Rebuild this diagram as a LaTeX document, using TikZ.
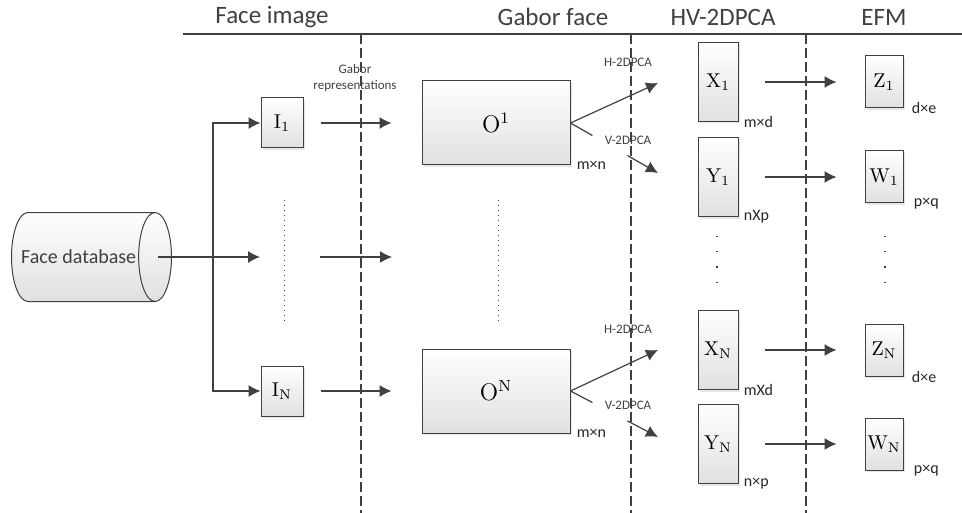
\documentclass[tikz,border=0pt]{standalone}
\usepackage{fontspec}
\newfontfamily\lblfont{Carlito}
\usetikzlibrary{positioning,shapes.geometric,arrows.meta,calc,shadows}
\definecolor{linegray}{HTML}{404040}
\tikzset{
  facebox/.style={draw=linegray, line width=0.5pt, top color=white, bottom color=black!12,
    drop shadow={opacity=0.2, shadow xshift=1pt, shadow yshift=-1pt}, inner sep=0pt},
  imgbox/.style={facebox, minimum width=21pt, minimum height=25pt},
  gaborbox/.style={facebox, minimum width=74pt, minimum height=42pt, font=\large},
  projbox/.style={facebox, minimum width=20pt, minimum height=39.5pt},
  efmbox/.style={facebox, minimum width=19pt, minimum height=26pt},
  dbshape/.style={cylinder, draw=linegray, line width=0.5pt, shape aspect=1.2,
    minimum height=80pt, minimum width=44.5pt, top color=white, bottom color=black!12,
    inner xsep=0.5pt, font=\lblfont\fontsize{10}{12}\selectfont, text=linegray},
  headtxt/.style={font=\lblfont\fontsize{12.5}{14}\selectfont, text=linegray},
  smalltxt/.style={font=\lblfont\fontsize{6.5}{8}\selectfont, text=linegray, inner sep=1pt},
  dimtxt/.style={font=\lblfont\fontsize{8}{9}\selectfont, text=black!85, inner sep=1pt},
  arr/.style={draw=linegray, line width=0.6pt, -{Latex[length=6pt,width=6pt]}},
  sepline/.style={draw=linegray, line width=1pt, dash pattern=on 5pt off 2pt},
  dotcol/.style={draw=linegray, line width=0.5pt, dotted},
  dotsparse/.style={draw=linegray, line width=0.6pt, dash pattern=on 0.6pt off 7pt}
}
\begin{document}
\begin{tikzpicture}[x=0.5pt,y=-0.5pt]
  \useasboundingbox (0,0) rectangle (962,513);
  % column titles
  \node[headtxt] (tface) at (272,17) {Face image};
  \node[headtxt] (tgabor) at (553,17) {Gabor face};
  \node[headtxt] (thv) at (723,17) {HV-2DPCA};
  \node[headtxt] (tefm) at (884,17) {EFM};
  \draw[linegray, line width=0.8pt] (183,34) -- (962,34);
  \foreach \x in {361,631,806}
    \draw[sepline] (\x,34) -- (\x,513);

  % database and face images
  \node[dbshape, anchor=east] (db) at (172,257) {Face database};
  \coordinate (br) at (213,257);
  \coordinate (imid) at (284,257);
  \node[imgbox] (I1) at (282,123) {$\mathrm{I}_1$};
  \node[imgbox] (IN) at (282,391) {$\mathrm{I}_\mathrm{N}$};
  \draw[arr, shorten >=12pt] ([xshift=-7pt]db.east) -- (imid);
  \draw[arr] (br) |- (I1);
  \draw[arr] (br) |- (IN);
  \draw[dotcol] (284,200) -- (284,322);

  % Gabor faces
  \node[gaborbox] (O1) at (496,123) {$\mathrm{O}^1$};
  \node[gaborbox] (ON) at (496,391) {$\mathrm{O}^\mathrm{N}$};
  \coordinate (omid) at (498,257);
  \draw[dotcol] (498,200) -- (498,322);
  \draw[arr, shorten <=8.5pt, shorten >=15pt] (I1) -- (O1);
  \draw[arr, shorten <=18pt, shorten >=53pt] (imid) -- (omid);
  \draw[arr, shorten <=8.5pt, shorten >=15pt] (IN) -- (ON);
  \node[smalltxt, align=center] (grep) at (355,78) {Gabor\\representations};
  \node[dimtxt, right=2pt of O1.south east] (o1dim) {m×n};
  \node[dimtxt, right=2pt of ON.south east] (ondim) {m×n};

  % HV-2DPCA
  \coordinate (h1) at (658,83);
  \coordinate (v1) at (658,173);
  \coordinate (hN) at (658,350);
  \coordinate (vN) at (658,437);
  \draw[arr] (O1.east) -- (h1);
  \draw[linegray, line width=0.6pt] (O1.east) -- ($(O1.east)!0.25!(v1)$);
  \draw[arr] ($(O1.east)!0.65!(v1)$) -- (v1);
  \draw[arr] (ON.east) -- (hN);
  \draw[linegray, line width=0.6pt] (ON.east) -- ($(ON.east)!0.25!(vN)$);
  \draw[arr] ($(ON.east)!0.65!(vN)$) -- (vN);
  \node[smalltxt] (h1lbl) at (628,62) {H-2DPCA};
  \node[smalltxt] (v1lbl) at (628,140) {V-2DPCA};
  \node[smalltxt] (hNlbl) at (628,329) {H-2DPCA};
  \node[smalltxt] (vNlbl) at (628,405) {V-2DPCA};

  \node[projbox] (X1) at (718,82) {$\mathrm{X}_1$};
  \node[projbox] (Y1) at (718,177) {$\mathrm{Y}_1$};
  \node[projbox] (XN) at (718,350) {$\mathrm{X}_\mathrm{N}$};
  \node[projbox] (YN) at (718,444) {$\mathrm{Y}_\mathrm{N}$};
  \node[dimtxt, right=1.5pt of X1.south east] (x1dim) {m×d};
  \node[dimtxt, right=1.5pt of Y1.south east] (y1dim) {nXp};
  \node[dimtxt, right=1.5pt of XN.south east] (xndim) {mXd};
  \node[dimtxt, right=1.5pt of YN.south east] (yndim) {n×p};
  \draw[dotsparse] (717,236) -- (717,282);

  % EFM
  \node[efmbox] (Z1) at (884,82) {$\mathrm{Z}_1$};
  \node[efmbox] (W1) at (884,177) {$\mathrm{W}_1$};
  \node[efmbox] (ZN) at (884,350) {$\mathrm{Z}_\mathrm{N}$};
  \node[efmbox] (WN) at (884,444) {$\mathrm{W}_\mathrm{N}$};
  \node[dimtxt, right=3pt of Z1.south east] (z1dim) {d×e};
  \node[dimtxt, right=4pt of W1.south east] (w1dim) {p×q};
  \node[dimtxt, right=3pt of ZN.south east] (zndim) {d×e};
  \node[dimtxt, right=4pt of WN.south east] (wndim) {p×q};
  \draw[dotsparse] (885,236) -- (885,282);
  \foreach \a/\b in {X1/Z1,Y1/W1,XN/ZN,YN/WN}
    \draw[arr, shorten <=13pt, shorten >=14pt] (\a) -- (\b);
\end{tikzpicture}
\end{document}
